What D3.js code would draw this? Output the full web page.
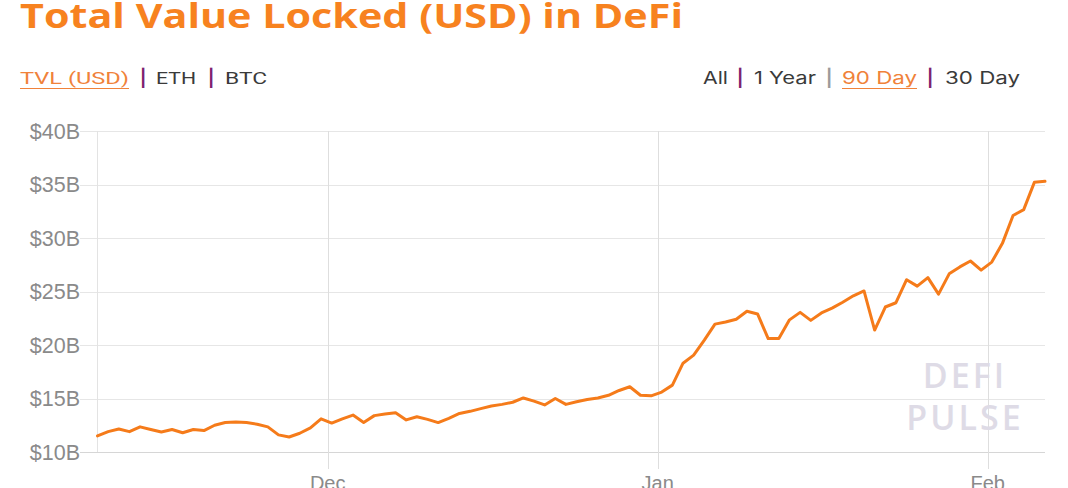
<!DOCTYPE html>
<html>
<head>
<meta charset="utf-8">
<script src="https://cdn.jsdelivr.net/npm/d3@7"></script>
<style>
  html, body { margin: 0; padding: 0; background: #fff; }
  svg { display: block; }
</style>
</head>
<body>
<svg id="chart" width="1068" height="488"></svg>
<script>
// ---- data ----
const titleText = "Total Value Locked (USD) in DeFi";
const startDate = "2020-11-09T09:00:00Z";   // first daily point
const tvlValues = [
  11.5, 11.9, 12.15, 11.9, 12.35, 12.1, 11.87, 12.1, 11.8, 12.1,
  12.0, 12.5, 12.75, 12.8, 12.75, 12.6, 12.35, 11.6, 11.4, 11.75,
  12.25, 13.1, 12.7, 13.1, 13.45, 12.75, 13.4, 13.55, 13.67, 13.0,
  13.3, 13.05, 12.75, 13.15, 13.6, 13.8, 14.05, 14.3, 14.45, 14.65,
  15.05, 14.75, 14.4, 15.0, 14.45, 14.7, 14.9, 15.05, 15.3, 15.75,
  16.1, 15.3, 15.25, 15.6, 16.25, 18.3, 19.05, 20.45, 21.95, 22.15,
  22.4, 23.15, 22.9, 20.6, 20.6, 22.35, 23.05, 22.3, 23.0, 23.45,
  24.0, 24.6, 25.05, 21.4, 23.55, 23.95, 26.1, 25.5, 26.3, 24.75,
  26.65, 27.3, 27.85, 27.0, 27.75, 29.5, 32.1, 32.65, 35.2, 35.3
];
const yTicks = [10, 15, 20, 25, 30, 35, 40];
const leftMenu = [
  {t: "TVL (USD)", kind: "active"}, {t: "|", kind: "sep"}, {t: "ETH", kind: "item"},
  {t: "|", kind: "sep"}, {t: "BTC", kind: "item"}
];
const rightMenu = [
  {t: "All", kind: "item"}, {t: "|", kind: "sep"}, {t: "1 Year", kind: "item"},
  {t: "|", kind: "sep2"}, {t: "90 Day", kind: "active"}, {t: "|", kind: "sep"}, {t: "30 Day", kind: "item"}
];
const watermark = ["DEFI", "PULSE"];

// ---- layout ----
const orange = "#f57b1a";
const svg = d3.select("#chart");
const start = new Date(startDate);
const data = tvlValues.map((v, i) => ({ date: d3.utcDay.offset(start, i), v }));

const x = d3.scaleUtc().domain(d3.extent(data, d => d.date)).range([97.5, 1045]);
const y = d3.scaleLinear().domain([10, 40]).range([452, 131]);

// title
svg.append("text")
  .attr("x", 20).attr("y", 28)
  .attr("font-family", "'Open Sans', sans-serif")
  .attr("font-weight", 700)
  .attr("font-size", 34)
  .attr("fill", "#f7821f")
  .attr("textLength", 663).attr("lengthAdjust", "spacingAndGlyphs")
  .text(titleText);

// menus
function drawMenu(items, positions, fontFamily, weight) {
  const g = svg.append("g");
  items.forEach((it, i) => {
    const p = positions[i];
    const isSep = it.kind.startsWith("sep");
    const col = it.kind === "active" ? "#f0823a" : it.kind === "sep" ? "#7d2270" : it.kind === "sep2" ? "#9a9a9a" : "#3a3a3a";
    const t = g.append("text")
      .attr("x", p[0]).attr("y", 84)
      .attr("font-family", isSep ? "'Inter', sans-serif" : fontFamily)
      .attr("font-size", 17)
      .attr("font-weight", isSep ? 700 : weight)
      .attr("fill", col)
      .text(it.t);
    if (!isSep) t.attr("textLength", p[1] - p[0]).attr("lengthAdjust", "spacingAndGlyphs");
    if (it.kind === "active") {
      g.append("line").attr("x1", p[0]).attr("x2", p[1]).attr("y1", 88.5).attr("y2", 88.5)
        .attr("stroke", "#f0823a").attr("stroke-width", 1.2);
    }
  });
}
drawMenu(leftMenu, [[20, 129], [140, 142], [156, 196], [208, 211], [225, 267]], "'Roboto', sans-serif", 400);
drawMenu(rightMenu, [[703, 728], [737, 740], [754, 816], [826, 829], [842, 917], [927, 930], [945, 1020]], "'Inter', sans-serif", 400);

// grid: horizontal
const grid = svg.append("g");
grid.selectAll("line.h").data(yTicks).join("line")
  .attr("x1", 80).attr("x2", 1045)
  .attr("y1", d => Math.round(y(d)) + 0.5).attr("y2", d => Math.round(y(d)) + 0.5)
  .attr("stroke", d => d === 10 ? "#d6d6d6" : "#e6e6e6").attr("stroke-width", 1);
// left axis line
grid.append("line").attr("x1", 97.5).attr("x2", 97.5).attr("y1", y(40)).attr("y2", y(10))
  .attr("stroke", "#e3e3e3");

// vertical month gridlines
const monthTicks = x.ticks(d3.utcMonth.every(1));
grid.selectAll("line.v").data(monthTicks).join("line")
  .attr("x1", d => Math.round(x(d)) + 0.5).attr("x2", d => Math.round(x(d)) + 0.5)
  .attr("y1", y(40)).attr("y2", 469)
  .attr("stroke", "#dedede");

// y labels
svg.append("g").selectAll("text").data(yTicks).join("text")
  .attr("x", 80).attr("y", d => y(d) + 7.5)
  .attr("text-anchor", "end")
  .attr("font-family", "'Liberation Sans', Arial, sans-serif")
  .attr("font-size", 21.5)
  .attr("fill", "#8a8a8a")
  .text(d => "$" + d + "B");

// x labels
const fmt = d3.utcFormat("%b");
svg.append("g").selectAll("text").data(monthTicks).join("text")
  .attr("x", d => x(d)).attr("y", 490)
  .attr("text-anchor", "middle")
  .attr("font-family", "'Liberation Sans', Arial, sans-serif")
  .attr("font-size", 20)
  .attr("fill", "#8a8a8a")
  .text(d => fmt(d));

// watermark
svg.append("g").selectAll("text").data(watermark).join("text")
  .attr("x", 965).attr("y", (d, i) => 388 + i * 42)
  .attr("text-anchor", "middle")
  .attr("font-family", "'Open Sans', sans-serif")
  .attr("font-weight", 600)
  .attr("font-size", 34)
  .attr("letter-spacing", 3)
  .attr("fill", "#dedbe6")
  .text(d => d);

// line
svg.append("path")
  .datum(data)
  .attr("fill", "none")
  .attr("stroke", orange)
  .attr("stroke-width", 3)
  .attr("stroke-linejoin", "round")
  .attr("stroke-linecap", "round")
  .attr("d", d3.line().x(d => x(d.date)).y(d => y(d.v)));
</script>
</body>
</html>
